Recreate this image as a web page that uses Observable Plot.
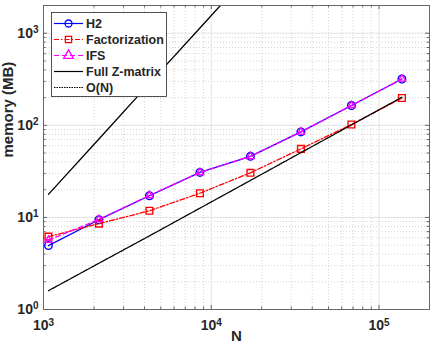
<!DOCTYPE html>
<html><head><meta charset="utf-8">
<script src="https://cdn.jsdelivr.net/npm/d3@7"></script>
<script src="https://cdn.jsdelivr.net/npm/@observablehq/plot@0.6"></script>
<style>
body{margin:0;background:#fff}
#wrap{position:relative;width:432px;height:348px;overflow:hidden;background:#fff}
</style>
</head><body><div id="wrap"></div>
<script>
// ---- data ----
const N      = [1070, 2140, 4280, 8560, 17120, 34240, 68480, 136960];
const h2     = [4.94, 9.44, 17.2, 30.8, 46.0, 84.8, 164, 318];
const fact   = [6.18, 8.55, 11.8, 18.3, 30.5, 55.5, 102, 198];
const ifs    = [5.66, 9.50, 17.3, 30.8, 46.0, 84.8, 164, 318];
const fullN  = [1070, 2140, 4280, 8560, 17120];
const full   = [17.8, 71, 285, 1140, 4560];
const oN     = [1.60, 3.18, 6.3, 12.6, 25.2, 50.5, 101, 202];
const seriesNames = ["H2", "Factorization", "IFS", "Full Z-matrix", "O(N)"];
const xMajor = [1e3, 1e4, 1e5];
const yMajor = [1, 10, 100, 1000];
const xMinor = [2e3,3e3,4e3,5e3,6e3,7e3,8e3,9e3,2e4,3e4,4e4,5e4,6e4,7e4,8e4,9e4,2e5];
const yMinor = [2,3,4,5,6,7,8,9,20,30,40,50,60,70,80,90,200,300,400,500,600,700,800,900,2000];
const xLabel = "N";
const yLabel = "memory (MB)";

const rows = (xs, ys) => xs.map((x, i) => ({x, y: ys[i]}));
const dH2 = rows(N, h2), dF = rows(N, fact), dI = rows(N, ifs), dFull = rows(fullN, full), dO = rows(N, oN);

const W = 432, H = 348, mL = 43, mR = 3, mT = 5, mB = 39;
const FW = W - mL - mR, FH = H - mT - mB;
const axC = "#666";
const font = "'Liberation Sans', Arial, Helvetica, sans-serif";
const expFmt = d => String(Math.round(Math.log10(d)));

const svg = Plot.plot({
  width: W, height: H,
  marginLeft: mL, marginRight: mR, marginTop: mT, marginBottom: mB,
  style: {fontFamily: font, background: "#fff", color: "#262626"},
  x: {type: "log", domain: [1000, 2e5], label: null},
  y: {type: "log", domain: [1, 2000], label: null},
  marks: [
    Plot.ruleX(xMinor, {x: d => d, stroke: "#d4d4d4", strokeDasharray: "1,2"}),
    Plot.ruleY(yMinor, {y: d => d, stroke: "#d4d4d4", strokeDasharray: "1,2"}),
    Plot.ruleX(xMajor, {x: d => d, stroke: "#e2e2e2"}),
    Plot.ruleY(yMajor, {y: d => d, stroke: "#e2e2e2"}),
    // inward ticks on all four sides
    Plot.tickX(xMajor, {x: d => d, insetTop: FH - 4, stroke: axC}),
    Plot.tickX(xMajor, {x: d => d, insetBottom: FH - 4, stroke: axC}),
    Plot.tickX(xMinor, {x: d => d, insetTop: FH - 2.5, stroke: axC}),
    Plot.tickX(xMinor, {x: d => d, insetBottom: FH - 2.5, stroke: axC}),
    Plot.tickY(yMajor, {y: d => d, insetRight: FW - 4, stroke: axC}),
    Plot.tickY(yMajor, {y: d => d, insetLeft: FW - 4, stroke: axC}),
    Plot.tickY(yMinor, {y: d => d, insetRight: FW - 2.5, stroke: axC}),
    Plot.tickY(yMinor, {y: d => d, insetLeft: FW - 2.5, stroke: axC}),
    // series
    Plot.line(dH2, {x: "x", y: "y", stroke: "#0000ff", strokeWidth: 1.3}),
    Plot.dot(dH2, {x: "x", y: "y", stroke: "#0000ff", r: 3.8, strokeWidth: 1.4}),
    Plot.line(dF, {x: "x", y: "y", stroke: "#ff0000", strokeWidth: 1.3, strokeDasharray: "5,2,1.5,2"}),
    Plot.dot(dF, {x: "x", y: "y", stroke: "#ff0000", symbol: "square", r: 3.8, strokeWidth: 1.4}),
    Plot.line(dI, {x: "x", y: "y", stroke: "#ff00ff", strokeWidth: 1.3, strokeDasharray: "5,3"}),
    Plot.dot(dI, {x: "x", y: "y", stroke: "#ff00ff", symbol: "triangle", r: 2.8, strokeWidth: 1.3}),
    Plot.line(dFull, {x: "x", y: "y", stroke: "#000", strokeWidth: 1.3, clip: true}),
    Plot.line(dO, {x: "x", y: "y", stroke: "#000", strokeWidth: 1.3, strokeDasharray: "1.5,1"}),
    Plot.frame({stroke: axC, strokeWidth: 1}),
    Plot.axisX(xMajor, {tickSize: 0, tickPadding: 11, tickFormat: expFmt, fontSize: 14, fontWeight: "bold", label: null}),
    Plot.axisY(yMajor, {tickSize: 0, tickPadding: 5, tickFormat: expFmt, fontSize: 14, fontWeight: "bold", label: null}),
    Plot.text([xLabel], {text: d => d, frameAnchor: "bottom", dy: 31, fontSize: 15, fontWeight: "bold", fill: "#262626"}),
    Plot.text([yLabel], {text: d => d, frameAnchor: "left", dx: -35, rotate: -90, fontSize: 15, fontWeight: "bold", fill: "#262626"})
  ]
});

// turn exponent tick labels into 10^k with superscripts
const NS = "http://www.w3.org/2000/svg";
svg.querySelectorAll('g[aria-label="x-axis tick label"] text, g[aria-label="y-axis tick label"] text').forEach(t => {
  const e = t.textContent;
  t.textContent = "10";
  const ts = document.createElementNS(NS, "tspan");
  ts.setAttribute("dy", "-0.45em");
  ts.setAttribute("font-size", "10");
  ts.textContent = e;
  t.appendChild(ts);
});

const wrap = document.getElementById("wrap");
wrap.appendChild(svg);

// legend overlay
const legendStyles = [
  {color: "#0000ff", dash: null, sym: d3.symbolCircle, r: 3.5},
  {color: "#ff0000", dash: "5,2,1.5,2", sym: d3.symbolSquare, r: 3.5},
  {color: "#ff00ff", dash: "5,3", sym: d3.symbolTriangle, r: 3.6},
  {color: "#000", dash: null, sym: null},
  {color: "#000", dash: "1.5,1", sym: null}
];
const leg = d3.select(wrap).append("svg")
  .attr("width", W).attr("height", H)
  .style("position", "absolute").style("left", "0px").style("top", "0px")
  .style("font-family", font);
leg.append("rect").attr("x", 51.5).attr("y", 12.5).attr("width", 115).attr("height", 84)
  .attr("fill", "#fff").attr("stroke", "#262626").attr("stroke-width", 0.8);
seriesNames.forEach((name, i) => {
  const st = legendStyles[i];
  const y = 23.5 + i * 16;
  leg.append("line").attr("x1", 54).attr("x2", 83).attr("y1", y).attr("y2", y)
    .attr("stroke", st.color).attr("stroke-width", 1.2)
    .attr("stroke-dasharray", st.dash);
  if (st.sym) {
    leg.append("path").attr("d", d3.symbol(st.sym, Math.PI * st.r * st.r)())
      .attr("transform", `translate(68.5,${y})`)
      .attr("fill", "none").attr("stroke", st.color).attr("stroke-width", 1.3);
  }
  leg.append("text").attr("x", 86).attr("y", y + 4.5).text(name)
    .attr("font-size", 12.5).attr("font-weight", "bold").attr("fill", "#262626");
});
</script>
</body></html>
